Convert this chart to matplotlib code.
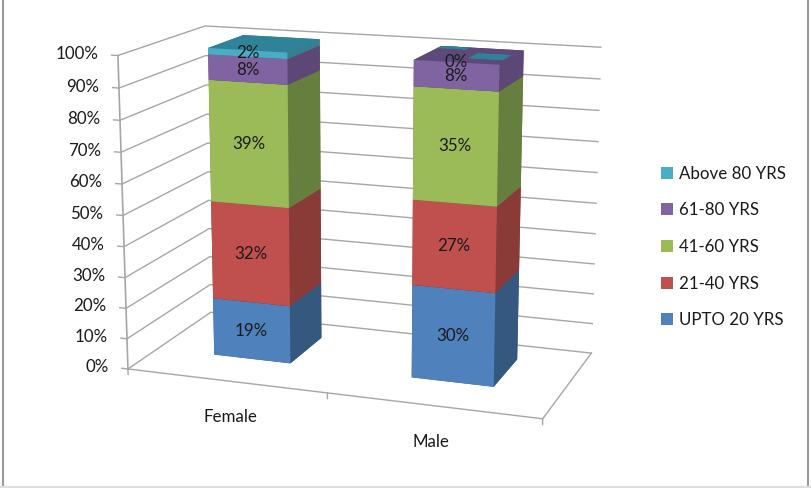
import numpy as np
import matplotlib
matplotlib.use('Agg')
import matplotlib.pyplot as plt
from matplotlib.lines import Line2D
from matplotlib.patches import Patch
from mpl_toolkits.mplot3d import proj3d

plt.rcParams['font.family'] = ['Lato', 'DejaVu Sans']

# data
groups = ['Female', 'Male']
series = ['UPTO 20 YRS', '21-40 YRS', '41-60 YRS', '61-80 YRS', 'Above 80 YRS']
values = {
    'UPTO 20 YRS': [19, 30],
    '21-40 YRS': [32, 27],
    '41-60 YRS': [39, 35],
    '61-80 YRS': [8, 8],
    'Above 80 YRS': [2, 0],
}
yticks = [0, 10, 20, 30, 40, 50, 60, 70, 80, 90, 100]

# front, side and top shades for each series
front = ['#4f81bd', '#c0504d', '#9bbb59', '#8064a2', '#4bacc6']
side = ['#35587f', '#8a3a37', '#667f3f', '#5c4776', '#357e8f']
top = ['#35587f', '#8a3a37', '#667f3f', '#5e4a7a', '#2f8297']

gridc = '#a6a6a6'
txtc = '#1a1a1a'
fs = 12.2

# bar layout on the floor, in axis fractions
bar_x = [0.1478, 0.6467]
bar_w = 0.1968
bar_d0 = 0.3455
bar_d1 = 0.7803

fig = plt.figure(figsize=(8.12, 4.88), dpi=100)
ax = fig.add_axes([0.09501, -0.01395, 0.68468, 1.13926], projection='3d', computed_zorder=False)
ax.view_init(elev=14.033, azim=-70.5421)
ax.set_proj_type('persp', focal_length=0.6236)
ax.set_box_aspect((1, 0.4782, 0.7435))
ax.set_axis_off()
ax.set_xlim(0, 1)
ax.set_ylim(0, 1)
ax.set_zlim(0, 100)


def label(x, y, z, s, ha='center'):
    # plain 2D text placed at a projected 3D point
    px, py, _ = proj3d.proj_transform(x, y, z, ax.get_proj())
    ax.text2D(px, py, s, transform=ax.transData, ha=ha, va='center',
              fontsize=fs, color=txtc, zorder=20)


# walls: each gridline runs along the left wall then the back wall
for t in yticks:
    ax.plot([-0.016, 0, 0, 1], [0, 0, 1, 1], [t, t, t, t], color=gridc, lw=1, zorder=1)
    label(-0.05, 0, t, '%d%%' % t, ha='right')

# front-left edge and floor outline
ax.plot([0, 0], [0, 0], [0, 100], color=gridc, lw=1.2, zorder=1)
ax.plot([0, 1, 1], [0, 0, 1], [0, 0, 0], color=gridc, lw=1, zorder=1)
for xt in [0, 0.5, 1]:
    ax.plot([xt, xt], [0, 0], [0, -1.8], color=gridc, lw=1, zorder=1)

# stacked boxes, bottom to top
for g, x0 in enumerate(bar_x):
    base = 0
    for s, name in enumerate(series):
        v = values[name][g]
        cols = [top[s], top[s], front[s], side[s], side[s], side[s]]
        if v > 0:
            ax.bar3d(x0, bar_d0, base, bar_w, bar_d1 - bar_d0, v, color=cols,
                     shade=False, linewidth=0, zorder=5 + s)
        else:
            # empty segment only shows as slivers on the top face
            dw = bar_d1 - bar_d0
            ax.bar3d(x0 + 0.55 * bar_w, bar_d0 + 0.3 * dw, base, 0.4 * bar_w, 0.35 * dw, 0,
                     color=cols, shade=False, linewidth=0, zorder=5 + s)
            ax.bar3d(x0, bar_d0 + 0.85 * dw, base, 0.35 * bar_w, 0.15 * dw, 0,
                     color=cols, shade=False, linewidth=0, zorder=5 + s)
        label(x0 + bar_w / 2, bar_d0, base + v / 2.0, '%d%%' % v)
        base += v

# category labels under the front edge
for name, xc in zip(groups, [0.26, 0.745]):
    label(xc, 0, -11.7, name)

ax.set_xlim(0, 1)
ax.set_ylim(0, 1)
ax.set_zlim(0, 100)

# legend with the top series first
handles = [Patch(facecolor=front[i], edgecolor='none') for i in range(len(series) - 1, -1, -1)]
fig.legend(handles, series[::-1], loc='center left', bbox_to_anchor=(0.814, 0.494),
           frameon=False, fontsize=fs, handlelength=0.72, handleheight=0.72, handletextpad=0.36,
           labelspacing=1.22, labelcolor=txtc, borderpad=0, borderaxespad=0)

# chart area border
for xs, ys, c in [([0.0032, 0.0032], [0, 1], '#9a9a9a'), ([0.9951, 0.9951], [0, 1], '#9a9a9a'),
                  ([0, 1], [0.002, 0.002], '#e0e0e0')]:
    fig.add_artist(Line2D(xs, ys, color=c, lw=1.5))

fig.savefig('out.png', dpi=100)
